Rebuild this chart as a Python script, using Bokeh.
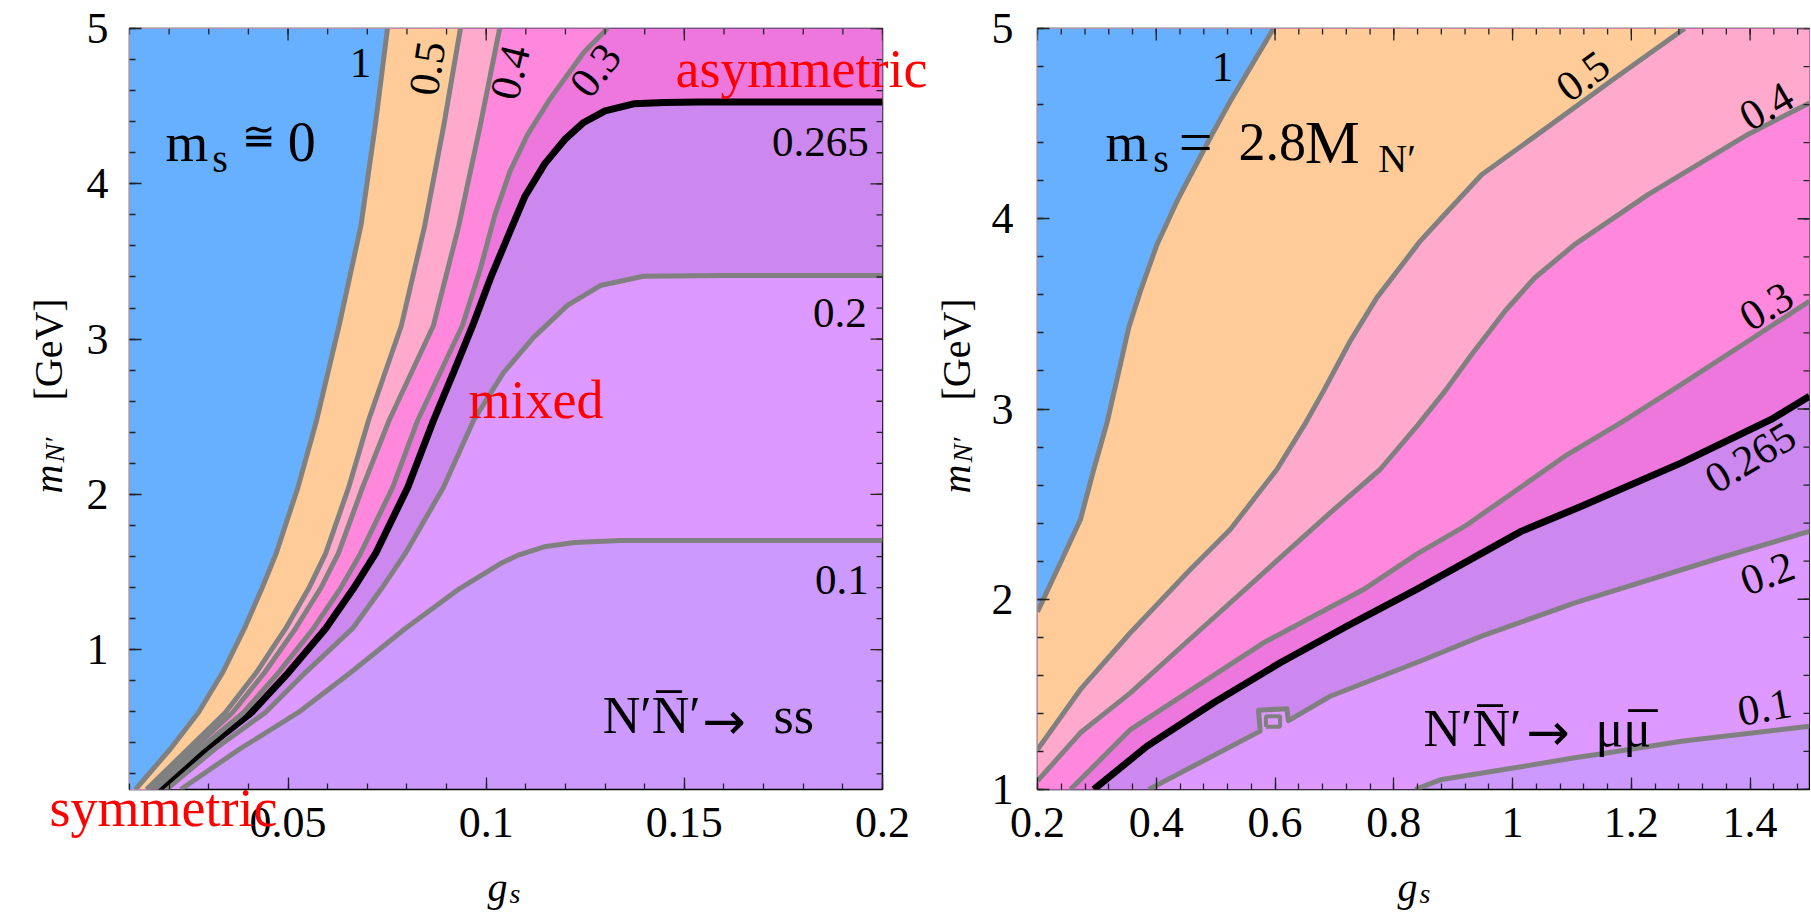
import math
from bokeh.plotting import figure
from bokeh.models import Label, FixedTicker, Range1d
from bokeh.layouts import row
from bokeh.embed import file_html
from bokeh.resources import INLINE

FONT = "Liberation Serif"

# ---------------- data: left panel (m_s ~ 0), contour lines of the asymmetry ----------------
L_X_RANGE = (0.01, 0.2)
L_Y_RANGE = (0.1, 5.0)

L_c1_x = [0.0115, 0.0204, 0.0274, 0.0335, 0.0390, 0.0434, 0.0470, 0.0525, 0.0572, 0.0629, 0.0684, 0.0720, 0.0751]
L_c1_y = [0.1, 0.364, 0.596, 0.853, 1.137, 1.394, 1.620, 2.045, 2.476, 3.088, 3.731, 4.375, 5.0]

L_c05_x = [0.0143, 0.0249, 0.0342, 0.0420, 0.0494, 0.0552, 0.0595, 0.0653, 0.0703, 0.0786, 0.0845, 0.0893, 0.0935]
L_c05_y = [0.1, 0.364, 0.596, 0.853, 1.137, 1.394, 1.620, 2.045, 2.476, 3.088, 3.731, 4.375, 5.0]

L_c04_x = [0.0153, 0.0262, 0.0360, 0.0441, 0.0519, 0.0582, 0.0627, 0.0688, 0.0755, 0.0867, 0.0931, 0.0985, 0.1034]
L_c04_y = [0.1, 0.364, 0.596, 0.853, 1.137, 1.394, 1.620, 2.045, 2.476, 3.088, 3.731, 4.375, 5.0]

L_c03_x = [0.0163, 0.0279, 0.0388, 0.0476, 0.0564, 0.0632, 0.0683, 0.0764, 0.0827, 0.0940, 0.0985, 0.1022, 0.1060, 0.1105, 0.1162, 0.1246, 0.1306]
L_c03_y = [0.1, 0.364, 0.596, 0.853, 1.137, 1.394, 1.620, 2.045, 2.476, 3.088, 3.45, 3.80, 4.08, 4.32, 4.55, 4.846, 5.0]

L_c0265_x = [0.0173, 0.0292, 0.0408, 0.0501, 0.0595, 0.0665, 0.0721, 0.0802, 0.0867, 0.0920, 0.0966, 0.1012, 0.1058,
             0.1098, 0.1148, 0.1200, 0.1246, 0.1300, 0.1372, 0.1450, 0.1541, 0.2]
L_c0265_y = [0.1, 0.364, 0.596, 0.853, 1.137, 1.394, 1.620, 2.045, 2.476, 2.80, 3.088, 3.40, 3.68,
             3.92, 4.13, 4.29, 4.395, 4.47, 4.515, 4.524, 4.526, 4.526]

L_c02_x = [0.0193, 0.0317, 0.0443, 0.0544, 0.0663, 0.0736, 0.0796, 0.0892, 0.0968, 0.1044, 0.1119, 0.1205, 0.1288, 0.1397, 0.16, 0.2]
L_c02_y = [0.1, 0.364, 0.596, 0.853, 1.137, 1.394, 1.620, 2.045, 2.476, 2.785, 3.010, 3.217, 3.345, 3.405, 3.41, 3.41]

L_c01_x = [0.0229, 0.0380, 0.0526, 0.0658, 0.0796, 0.0933, 0.1036, 0.1079, 0.1150, 0.1223, 0.1339, 0.2]
L_c01_y = [0.1, 0.364, 0.596, 0.853, 1.137, 1.394, 1.555, 1.607, 1.665, 1.690, 1.703, 1.703]

# ---------------- data: right panel (m_s = 2.8 M_N') ----------------
R_X_RANGE = (0.2, 1.5)
R_Y_RANGE = (1.0, 5.0)

R_c1_x = [0.2, 0.2387, 0.2723, 0.2947, 0.3172, 0.3396, 0.3536, 0.3732, 0.4013, 0.4377, 0.4938, 0.5246, 0.5974]
R_c1_y = [1.935, 2.192, 2.419, 2.682, 2.930, 3.234, 3.427, 3.619, 3.865, 4.110, 4.443, 4.618, 5.0]

R_c05_x = [0.2, 0.2723, 0.3564, 0.4573, 0.5246, 0.6031, 0.6521, 0.6815, 0.7264, 0.7712, 0.8441, 0.8806, 0.9478, 1.0375, 1.1721, 1.2898]
R_c05_y = [1.21, 1.526, 1.824, 2.156, 2.367, 2.682, 2.930, 3.094, 3.356, 3.584, 3.881, 4.005, 4.231, 4.433, 4.739, 5.0]

R_c04_x = [0.2, 0.2723, 0.3564, 0.4686, 0.5806, 0.6928, 0.7769, 0.8400, 0.8862, 0.9311, 0.9871, 1.0375, 1.1048, 1.2281, 1.3963, 1.5]
R_c04_y = [1.045, 1.298, 1.508, 1.824, 2.139, 2.454, 2.682, 2.914, 3.094, 3.286, 3.514, 3.690, 3.865, 4.127, 4.443, 4.609]

R_c03_x = [0.2555, 0.3564, 0.4686, 0.5806, 0.7488, 0.8400, 0.9198, 1.004, 1.088, 1.1833, 1.2842, 1.3963, 1.5]
R_c03_y = [1.0, 1.315, 1.543, 1.771, 2.051, 2.240, 2.384, 2.568, 2.752, 2.930, 3.129, 3.356, 3.567]

R_c0265_x = [0.2947, 0.3845, 0.4966, 0.6087, 0.7208, 0.8400, 1.0152, 1.116, 1.2842, 1.4356, 1.5]
R_c0265_y = [1.0, 1.228, 1.456, 1.666, 1.858, 2.055, 2.358, 2.489, 2.717, 2.945, 3.067]

R_c02_x = [0.3872, 0.5750, 0.5722, 0.6199, 0.6226, 0.6928, 0.8441, 0.9478, 1.1048, 1.3403, 1.5]
R_c02_y = [1.0, 1.307, 1.417, 1.424, 1.362, 1.490, 1.674, 1.806, 1.981, 2.209, 2.357]

R_island_x = [0.5846, 0.6085, 0.6085, 0.5846, 0.5846]
R_island_y = [1.330, 1.330, 1.385, 1.385, 1.330]

R_c01_x = [0.8357, 0.8806, 1.004, 1.1048, 1.161, 1.2842, 1.4524, 1.5]
R_c01_y = [1.0, 1.053, 1.114, 1.167, 1.193, 1.254, 1.315, 1.333]

# ---------------- ticks ----------------
LX_MAJOR = [0.05, 0.1, 0.15, 0.2]
LX_LABELS = ["0.05", "0.1", "0.15", "0.2"]
LY_MAJOR = [1, 2, 3, 4, 5]
LY_LABELS = ["1", "2", "3", "4", "5"]
RX_MAJOR = [0.2, 0.4, 0.6, 0.8, 1.0, 1.2, 1.4]
RX_LABELS = ["0.2", "0.4", "0.6", "0.8", "1", "1.2", "1.4"]
RY_MAJOR = [1, 2, 3, 4, 5]
RY_LABELS = ["1", "2", "3", "4", "5"]
LX_MINOR = [round(0.01 * i, 4) for i in range(1, 21)]
LY_MINOR = [round(0.2 * i, 4) for i in range(1, 26)]
RX_MINOR = [round(0.2 + 0.04 * i, 4) for i in range(0, 33)]
RY_MINOR = [round(1 + 0.2 * i, 4) for i in range(0, 21)]

# ---------------- colours ----------------
BLUE = "#66b0ff"
ORANGE = "#ffcc99"
LPINK = "#ffaacc"
PINK = "#ff88dd"
MAGENTA = "#ee77dd"
PURPLE = "#cc88ee"
LVIOLET = "#dd99ff"
VIOLET = "#cc99ff"
GRAY = "#808080"
TICK = "#222222"

TOTAL_H = 914
OVERLAY_SHIFT = 43   # measured vertical offset of the overlay canvas inside the row


def make_fig(xr, yr, fw, fh, bl, br, bt, bb):
    p = figure(x_range=Range1d(*xr), y_range=Range1d(*yr), frame_width=fw, frame_height=fh,
               min_border_left=bl, min_border_right=br, min_border_top=bt, min_border_bottom=bb,
               output_backend="svg", toolbar_location=None, tools="")
    p.grid.visible = False
    p.outline_line_color = "black"
    p.outline_line_width = 1.5
    p.background_fill_color = VIOLET
    p.border_fill_color = "white"
    return p


def style_axis(ax, ticks, minor, labels, standoff):
    ax.ticker = FixedTicker(ticks=ticks, minor_ticks=minor)
    ax.major_tick_in = 12
    ax.major_tick_out = 0
    ax.minor_tick_in = 6
    ax.minor_tick_out = 0
    ax.major_tick_line_color = TICK
    ax.minor_tick_line_color = TICK
    ax.major_tick_line_width = 1.3
    ax.minor_tick_line_width = 1.3
    ax.axis_line_color = None
    ax.major_label_overrides = dict(zip(ticks, labels))
    ax.major_label_text_font = FONT
    ax.major_label_text_font_size = "44px"
    ax.major_label_text_color = "black"
    ax.major_label_standoff = standoff


def mirror_ticks(p, xr, yr, xt, xm, yt, ym):
    # ticks on the top and right edges of the frame
    p.ray(x=xm, y=[yr[1]] * len(xm), length=6, length_units="screen", angle=-math.pi / 2,
          line_color=TICK, line_width=1.3)
    p.ray(x=xt, y=[yr[1]] * len(xt), length=12, length_units="screen", angle=-math.pi / 2,
          line_color=TICK, line_width=1.3)
    p.ray(x=[xr[1]] * len(ym), y=ym, length=6, length_units="screen", angle=math.pi,
          line_color=TICK, line_width=1.3)
    p.ray(x=[xr[1]] * len(yt), y=yt, length=12, length_units="screen", angle=math.pi,
          line_color=TICK, line_width=1.3)


def region(xs, ys, xr, yr):
    px, py = list(xs), list(ys)
    if abs(xs[-1] - xr[1]) < 1e-9:
        px.append(xr[1]); py.append(yr[1])
    px.append(xr[0]); py.append(yr[1])
    if abs(ys[0] - yr[0]) < 1e-9:
        px.append(xr[0]); py.append(yr[0])
    return px, py


def draw_panel(p, curves, xr, yr):
    for xs, ys, col, lc, lw in curves:
        px, py = region(xs, ys, xr, yr)
        p.patch(px, py, fill_color=col, line_color=None)
    for xs, ys, col, lc, lw in curves:
        p.line(xs, ys, line_color=lc, line_width=lw, line_join="round")


def lab(p, x, y, text, size, color="black", angle=0.0, align="left", baseline="alphabetic",
        style="normal", font=FONT):
    p.add_layout(Label(x=x, y=y, text=text, text_font=font, text_font_size=f"{size}px",
                       text_color=color, angle=angle, text_align=align, text_baseline=baseline,
                       text_font_style=style))


# ---------------- left figure ----------------
W1 = 129 + 753 + 103
p1 = make_fig(L_X_RANGE, L_Y_RANGE, 753, 761, 129, 103, 28, TOTAL_H - 28 - 761)
style_axis(p1.xaxis[0], LX_MAJOR, LX_MINOR, LX_LABELS, 18)
style_axis(p1.yaxis[0], LY_MAJOR, LY_MINOR, LY_LABELS, 21)
left_curves = [
    (L_c01_x, L_c01_y, LVIOLET, GRAY, 5),
    (L_c02_x, L_c02_y, PURPLE, GRAY, 5),
    (L_c0265_x, L_c0265_y, MAGENTA, "black", 7),
    (L_c03_x, L_c03_y, PINK, GRAY, 5),
    (L_c04_x, L_c04_y, LPINK, GRAY, 5),
    (L_c05_x, L_c05_y, ORANGE, GRAY, 5),
    (L_c1_x, L_c1_y, BLUE, GRAY, 5),
]
draw_panel(p1, left_curves, L_X_RANGE, L_Y_RANGE)
mirror_ticks(p1, L_X_RANGE, L_Y_RANGE, LX_MAJOR, LX_MINOR, LY_MAJOR, LY_MINOR)

# contour labels (left)
lab(p1, 0.0683, 4.781, "1", 43, align="center", baseline="middle")
lab(p1, 0.0852, 4.743, "0.5", 43, angle=math.radians(81), align="center", baseline="middle")
lab(p1, 0.1061, 4.717, "0.4", 43, angle=math.radians(76), align="center", baseline="middle")
lab(p1, 0.1276, 4.73, "0.3", 43, angle=math.radians(52), align="center", baseline="middle")
lab(p1, 0.1965, 4.266, "0.265", 43, align="right")
lab(p1, 0.196, 3.171, "0.2", 43, align="right")
lab(p1, 0.1965, 1.446, "0.1", 43, align="right")
# annotations (left)
lab(p1, 0.0191, 4.266, "m", 55)
lab(p1, 0.0309, 4.163, "s", 40)
lab(p1, 0.0385, 4.305, "\u2245", 40, font="DejaVu Serif")
lab(p1, 0.0499, 4.266, "0", 56)
lab(p1, 0.09554, 2.605, "mixed", 54, color="red")
lab(p1, 0.1294, 0.5765, "N\u2032N\u0305\u2032", 52)
lab(p1, 0.1545, 0.544, "\u2192", 52, font="DejaVu Sans")
lab(p1, 0.1725, 0.5765, "ss", 52)

# ---------------- right figure ----------------
W2 = 52 + 772 + 1
p2 = make_fig(R_X_RANGE, R_Y_RANGE, 772, 761, 52, 1, 28, TOTAL_H - 28 - 761)
style_axis(p2.xaxis[0], RX_MAJOR, RX_MINOR, RX_LABELS, 18)
style_axis(p2.yaxis[0], RY_MAJOR, RY_MINOR, RY_LABELS, 24)
right_curves = [
    (R_c01_x, R_c01_y, LVIOLET, GRAY, 5),
    (R_c02_x, R_c02_y, PURPLE, GRAY, 5),
    (R_c0265_x, R_c0265_y, MAGENTA, "black", 7),
    (R_c03_x, R_c03_y, PINK, GRAY, 5),
    (R_c04_x, R_c04_y, LPINK, GRAY, 5),
    (R_c05_x, R_c05_y, ORANGE, GRAY, 5),
    (R_c1_x, R_c1_y, BLUE, GRAY, 5),
]
draw_panel(p2, right_curves, R_X_RANGE, R_Y_RANGE)
p2.line(R_island_x, R_island_y, line_color=GRAY, line_width=4)
mirror_ticks(p2, R_X_RANGE, R_Y_RANGE, RX_MAJOR, RX_MINOR, RY_MAJOR, RY_MINOR)

lab(p2, 0.5115, 4.800, "1", 43, align="center", baseline="middle")
lab(p2, 1.1186, 4.748, "0.5", 43, angle=math.radians(36), align="center", baseline="middle")
lab(p2, 1.4276, 4.590, "0.4", 43, angle=math.radians(30), align="center", baseline="middle")
lab(p2, 1.4276, 3.539, "0.3", 43, angle=math.radians(31), align="center", baseline="middle")
lab(p2, 1.4006, 2.745, "0.265", 43, angle=math.radians(31), align="center", baseline="middle")
lab(p2, 1.4293, 2.135, "0.2", 43, angle=math.radians(20), align="center", baseline="middle")
lab(p2, 1.4243, 1.431, "0.1", 43, angle=math.radians(10), align="center", baseline="middle")

lab(p2, 0.3145, 4.401, "m", 55)
lab(p2, 0.3950, 4.317, "s", 40)
lab(p2, 0.4380, 4.401, "=", 60)
lab(p2, 0.5385, 4.401, "2.8", 54)
lab(p2, 0.6500, 4.401, "M", 62)
lab(p2, 0.7740, 4.317, "N\u2032", 40)
lab(p2, 0.8500, 1.319, "N\u2032N\u0305\u2032", 52)
lab(p2, 1.0230, 1.30, "\u2192", 52, font="DejaVu Sans")
lab(p2, 1.1396, 1.319, "\u03bc\u03bc", 52)
lab(p2, 1.1952, 1.4468, "\u2013", 58)

# ---------------- transparent overlay for texts that lie outside the frames ----------------
WT = W1 + W2
p0 = figure(x_range=Range1d(0, WT), y_range=Range1d(TOTAL_H + OVERLAY_SHIFT, OVERLAY_SHIFT),
            frame_width=WT, frame_height=TOTAL_H, min_border=0,
            x_axis_location=None, y_axis_location=None,
            output_backend="svg", toolbar_location=None, tools="")
p0.title.visible = False
p0.title_location = None
p0.grid.visible = False
p0.outline_line_color = None
p0.background_fill_alpha = 0
p0.border_fill_alpha = 0
p0.margin = (0, 0, 0, -WT)

lab(p0, 49, 822, "symmetric", 54, color="red")
lab(p0, 675, 83, "asymmetric", 54, color="red")
for bx in (48, 956):
    lab(p0, bx, 508, "m", 40, angle=math.pi / 2, style="italic")
    lab(p0, bx + 6, 477, "N\u2032", 28, angle=math.pi / 2, style="italic")
    lab(p0, bx, 415, "[GeV]", 40, angle=math.pi / 2)
for gx in (487, 1397):
    lab(p0, gx, 902, "g", 40, style="italic")
    lab(p0, gx + 22, 908, "s", 28, style="italic")

layout = row(p1, p2, p0)
open("out.html", "w").write(file_html(layout, INLINE))
